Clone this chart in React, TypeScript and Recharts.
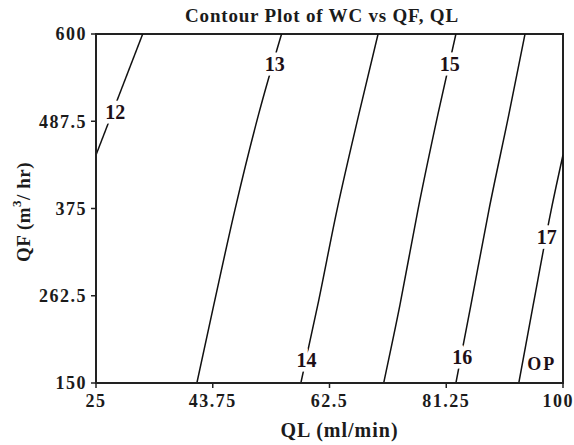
import { LineChart, Line, XAxis, YAxis, ReferenceArea, ReferenceDot } from 'recharts'

const qfLevels = [150, 250, 373, 496, 600]

// QL (ml/min) of each contour line at the QF levels above
const ql13 = [41.2, 43.9, 47.3, 51.1, 54.8]
const ql14 = [57.9, 60.6, 63.7, 67.2, 70.3]
const ql15 = [71.2, 73.8, 76.7, 79.9, 82.8]
const ql16 = [82.8, 85.2, 88.1, 91.3, 93.9]

// the two contours that leave through a side of the box
const qf12 = [444, 600]
const ql12 = [25, 32.5]
const qf17 = [150, 250, 373, 444]
const ql17 = [92.9, 95.2, 98.1, 100]

const xTicks = [25, 43.75, 62.5, 81.25, 100]
const yTicks = [150, 262.5, 375, 487.5, 600]

const labelText = ['12', '13', '14', '15', '16', '17', 'OP']
const labelQL = [28.1, 53.7, 58.8, 81.8, 83.8, 97.4, 96.6]
const labelQF = [500, 561, 180, 561, 183, 338, 174]

const FONT = '"Liberation Serif", "Times New Roman", serif'
const INK = '#1b1b1b'

const toPoints = (ql: number[], qf: number[]) => ql.map((x, i) => ({ x, y: qf[i] }))

const contours = [
  toPoints(ql12, qf12),
  toPoints(ql13, qfLevels),
  toPoints(ql14, qfLevels),
  toPoints(ql15, qfLevels),
  toPoints(ql16, qfLevels),
  toPoints(ql17, qf17),
]

const contourLabel = (text: string) => (props: any) => {
  const vb = props.viewBox
  const cx = vb.x + vb.width / 2
  const cy = vb.y + vb.height / 2
  const op = text === 'OP'
  return (
    <text
      x={cx}
      y={cy}
      textAnchor="middle"
      dominantBaseline="central"
      fontFamily={FONT}
      fontWeight="bold"
      fontSize={op ? 18 : 20}
      letterSpacing={op ? 2 : 0}
      fill="#1e0f16"
      stroke="#fff"
      strokeWidth={op ? 4 : 9}
      paintOrder="stroke"
    >
      {text}
    </text>
  )
}

const tickStyle = { fontFamily: FONT, fontWeight: 'bold', fontSize: 18, letterSpacing: 1.5, fill: INK }

export default function App() {
  return (
    <div style={{ position: 'absolute', left: 0, top: 0, width: 574, height: 445, background: '#fff' }}>
      <div
        style={{
          position: 'absolute',
          left: 80,
          width: 484,
          top: 5,
          textAlign: 'center',
          fontFamily: FONT,
          fontWeight: 'bold',
          fontSize: 19,
          letterSpacing: 0.8,
          color: INK,
        }}
      >
        Contour Plot of WC vs QF, QL
      </div>
      <LineChart width={574} height={445} margin={{ top: 34, right: 11, bottom: 0, left: 0 }}>
        <XAxis
          dataKey="x"
          type="number"
          domain={[25, 100]}
          ticks={xTicks}
          allowDataOverflow
          height={62}
          tickSize={5}
          tickMargin={6}
          tick={tickStyle}
          axisLine={{ stroke: '#222', strokeWidth: 2 }}
          tickLine={{ stroke: '#222', strokeWidth: 1.5 }}
          label={{
            value: 'QL (ml/min)',
            position: 'insideBottom',
            offset: 8,
            dx: 10,
            style: { fontFamily: FONT, fontWeight: 'bold', fontSize: 20, letterSpacing: 1, fill: INK },
          }}
        />
        <YAxis
          dataKey="y"
          type="number"
          domain={[150, 600]}
          ticks={yTicks}
          allowDataOverflow
          width={96}
          tickSize={5}
          tickMargin={4}
          tick={tickStyle}
          axisLine={{ stroke: '#222', strokeWidth: 2 }}
          tickLine={{ stroke: '#222', strokeWidth: 1.5 }}
          label={{
            content: () => (
              <text
                x={23}
                y={212}
                transform="rotate(-90, 23, 212)"
                textAnchor="middle"
                dominantBaseline="central"
                fontFamily={FONT}
                fontWeight="bold"
                fontSize={19}
                letterSpacing={0.5}
                fill={INK}
              >
                QF (m
                <tspan dy={-7} fontSize={13}>3</tspan>
                <tspan dy={7}>/ hr)</tspan>
              </text>
            ),
          }}
        />
        <ReferenceArea x1={25} x2={100} y1={150} y2={600} fill="none" stroke="#222" strokeWidth={2} />
        {contours.map((pts, i) => (
          <Line
            key={`c-${i}`}
            data={pts}
            dataKey="y"
            type="monotone"
            stroke="#111"
            strokeWidth={1.5}
            dot={false}
            activeDot={false}
            isAnimationActive={false}
          />
        ))}
        {labelText.map((t, i) => (
          <ReferenceDot
            key={`l-${t}`}
            x={labelQL[i]}
            y={labelQF[i]}
            r={0}
            fill="none"
            stroke="none"
            label={{ content: contourLabel(t) }}
          />
        ))}
      </LineChart>
    </div>
  )
}
